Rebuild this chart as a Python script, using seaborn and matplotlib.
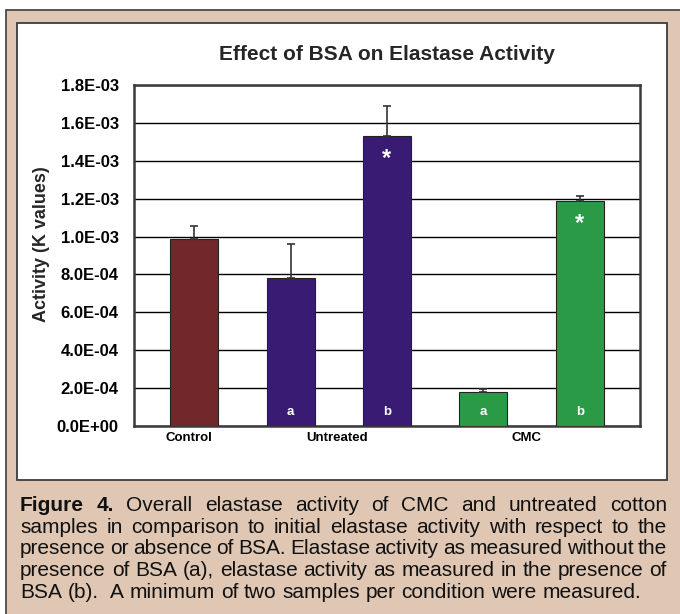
import matplotlib
matplotlib.use("Agg")
import matplotlib.pyplot as plt
from matplotlib.patches import Rectangle
import pandas as pd
import seaborn as sns

# bar data (K values)
bar_ids = ["Control", "Untreated a", "Untreated b", "CMC a", "CMC b"]
groups = ["Control", "Untreated", "Untreated", "CMC", "CMC"]
activity = [0.985e-3, 0.779e-3, 1.529e-3, 0.181e-3, 1.187e-3]
err_up = [0.072e-3, 0.181e-3, 0.161e-3, 0.014e-3, 0.026e-3]
bsa_marks = ["", "a", "b", "a", "b"]
significant = [False, False, True, False, True]

group_labels = ["Control", "Untreated", "CMC"]
group_pos = [-0.05, 1.48, 3.45]
yticks = [i * 0.2e-3 for i in range(10)]

palette = {"Control": "#72272a", "Untreated": "#391b74", "CMC": "#2b9a47"}
TAN = "#dfc7b3"

caption = [
    [("Figure 4.", "bold"), ("Overall elastase activity of CMC and untreated cotton", "normal")],
    [("samples in comparison to initial elastase activity with respect to the", "normal")],
    [("presence or absence of BSA.  Elastase activity as measured without the", "normal")],
    [("presence of BSA (a), elastase activity as measured in the presence of", "normal")],
    [("BSA (b).  A minimum of two samples per condition were measured.", "normal")],
]

sns.set_theme(style="white")
plt.rcParams["font.family"] = ["Liberation Sans", "DejaVu Sans"]

W, H = 680, 614
fig = plt.figure(figsize=(W / 100, H / 100), dpi=100, facecolor="white")


def px_rect(x0, y0, x1, y1, **kw):
    # rectangle in pixel coords measured from the top-left corner
    fig.patches.append(Rectangle((x0 / W, 1 - y1 / H), (x1 - x0) / W, (y1 - y0) / H,
                                 transform=fig.transFigure, figure=fig, zorder=-5, **kw))


px_rect(6, 10, 684, 618, facecolor=TAN, edgecolor="#3c3c3c", lw=1.2)
px_rect(17, 23, 667, 480, facecolor="white", edgecolor="#3c3c3c", lw=1.3)

ax = fig.add_axes([134 / W, 1 - 426 / H, 506 / W, 341 / H])

df = pd.DataFrame({"bar": bar_ids, "group": groups, "activity": activity})
sns.barplot(data=df, x="bar", y="activity", hue="group", palette=palette, order=bar_ids,
            dodge=False, width=0.5, legend=False, edgecolor="#222222", linewidth=0.8,
            saturation=1, errorbar=None, ax=ax, zorder=3)
ax.errorbar(range(len(bar_ids)), activity, yerr=[[0] * len(err_up), err_up], fmt="none",
            ecolor="#333333", elinewidth=1.2, capsize=3, capthick=1.2, zorder=4)

for i, (v, m, sig) in enumerate(zip(activity, bsa_marks, significant)):
    if m:
        ax.annotate(m, xy=(i, 0), xytext=(0, 10), textcoords="offset points", ha="center",
                    va="center", color="white", fontsize=9.5, fontweight="bold", zorder=5)
    if sig:
        ax.annotate("*", xy=(i, v), xytext=(0, -16), textcoords="offset points", ha="center",
                    va="center", color="white", fontsize=17, fontweight="bold", zorder=5)

ax.set_xlim(-0.625, 4.625)
ax.set_ylim(0, 1.8e-3)
ax.set_yticks(yticks)
ax.set_yticklabels([f"{t:.1E}" for t in yticks], fontsize=12, fontweight="bold")
ax.set_xticks(group_pos)
ax.set_xticklabels(group_labels, fontsize=9.5, fontweight="bold")
ax.tick_params(axis="both", length=0, colors="black")
ax.tick_params(axis="y", pad=11)
ax.tick_params(axis="x", pad=4)
ax.yaxis.grid(True, color="black", lw=1)
ax.set_axisbelow(True)
for s in ax.spines.values():
    s.set_color("#3a3a3a")
    s.set_linewidth(1.8)
ax.set_xlabel("")
ax.set_ylabel("Activity (K values)", fontsize=13, fontweight="bold")
ax.yaxis.set_label_coords(-84 / 506, (426 - 244) / 341)
ax.set_title("Effect of BSA on Elastase Activity", fontsize=15, fontweight="bold", pad=18)

# justified caption
fig.canvas.draw()
renderer = fig.canvas.get_renderer()
left, right = 20, 667
cap_size = 15
baselines = [511, 533, 554, 576, 598]


def word_width(txt, weight):
    t = fig.text(0, 0, txt, fontsize=cap_size, fontweight=weight)
    w = t.get_window_extent(renderer).width
    t.remove()
    return w


space = word_width("a a", "normal") - 2 * word_width("a", "normal")
for li, (line, base) in enumerate(zip(caption, baselines)):
    words = []
    for chunk, weight in line:
        for w in chunk.split():
            words.append((w, weight))
    widths = [word_width(w, wt) for w, wt in words]
    last = li == len(caption) - 1
    if last:
        gap = space
    else:
        gap = (right - left - sum(widths)) / (len(words) - 1)
    x = left
    for (w, wt), ww in zip(words, widths):
        fig.text(x / W, 1 - base / H, w, fontsize=cap_size, fontweight=wt, ha="left",
                 va="baseline", color="#111111")
        x += ww + gap
        if w.endswith(".") and last:
            x += space

fig.savefig("out.png", dpi=100, facecolor="white")
